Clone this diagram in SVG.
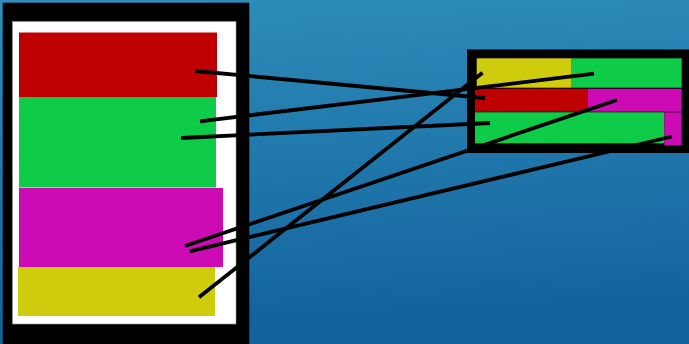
<svg xmlns="http://www.w3.org/2000/svg" width="689" height="344" viewBox="0 0 689 344">
<defs>
<linearGradient id="bg" x1="0" y1="0" x2="0.1" y2="1">
<stop offset="0" stop-color="#2e8dba"/>
<stop offset="1" stop-color="#12629d"/>
</linearGradient>
</defs>
<style>
.frame{fill:#000}
.red{fill:#bf0000}
.green{fill:#0ecc48}
.mag{fill:#cc0bb4}
.yel{fill:#cfcb0d}
.conn line{stroke:#000;stroke-width:3.8;stroke-linecap:butt}
</style>
<rect width="689" height="344" fill="url(#bg)"/>
<g id="left-node">
<rect class="frame" x="2.7" y="2.7" width="246.6" height="342"/>
<rect x="12.5" y="21.5" width="223.5" height="302.5" fill="#fff" stroke="#999" stroke-width="0.6"/>
<rect class="red" x="19" y="32.5" width="198" height="64.5"/>
<rect class="green" x="19" y="97" width="197" height="90.5"/>
<rect class="mag" x="19" y="188" width="204" height="79"/>
<rect class="yel" x="18" y="267" width="197" height="49"/>
</g>
<g id="right-node">
<rect class="frame" x="467" y="49.5" width="222" height="103.5"/>
<rect class="yel" x="476.7" y="58.3" width="95" height="29.4"/>
<rect class="green" x="571.7" y="58.3" width="110" height="29.4"/>
<rect class="red" x="475" y="88.7" width="112.7" height="23"/>
<rect class="mag" x="587.7" y="88.7" width="94" height="23"/>
<rect class="green" x="475" y="112.3" width="189.3" height="31"/>
<rect class="mag" x="664.3" y="112.3" width="17.4" height="33"/>
</g>
<g id="connectors" class="conn">
<line x1="195" y1="71" x2="485" y2="98"/>
<line x1="200" y1="121.3" x2="594" y2="73.7"/>
<line x1="181" y1="138" x2="490" y2="123"/>
<line x1="185" y1="246" x2="617" y2="100"/>
<line x1="189.5" y1="251.3" x2="672" y2="136.5"/>
<line x1="199" y1="297.3" x2="482.5" y2="72.7"/>
</g>
</svg>
